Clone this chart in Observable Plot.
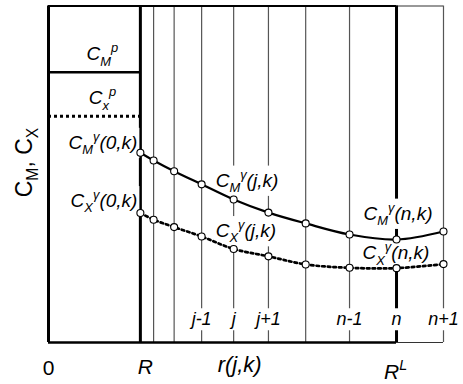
<!DOCTYPE html>
<html>
<head>
<meta charset="utf-8">
<script src="https://cdn.jsdelivr.net/npm/d3@7"></script>
<script src="https://cdn.jsdelivr.net/npm/@observablehq/plot@0.6"></script>
<style>
  html, body { margin: 0; padding: 0; background: #fff; }
</style>
</head>
<body>
<div id="chart"></div>
<script>
// Radial grid nodes r(j,k): node 0 sits on the particle surface R, node n on the layer edge R^L
const nodeR = [2.64, 3.02, 3.61, 4.40, 5.32, 6.32, 7.39, 8.65, 10.0, 11.35];
const nodeLabels = ["", "", "", "j-1", "j", "j+1", "", "n-1", "n", "n+1"];
const R = nodeR[0];
const RL = nodeR[8];

// Concentration profiles at the grid nodes
const cM = [0.564, 0.541, 0.509, 0.470, 0.425, 0.386, 0.354, 0.321, 0.306, 0.330];
const cX = [0.385, 0.365, 0.343, 0.315, 0.278, 0.256, 0.232, 0.222, 0.221, 0.233];

// Concentrations inside the particle
const cMp = 0.803;
const cXp = 0.672;

// Text labels ( _x = subscript, ^x = superscript )
const yLabel = "C_M, C_X";
const xAxisLabels = ["0", "R", "r(j,k)", "R^L"];
const labelMp = "C_M^p";
const labelXp = "C_x^p";
const labelM = ["C_M^γ(0,k)", "C_M^γ(j,k)", "C_M^γ(n,k)"];
const labelX = ["C_X^γ(0,k)", "C_X^γ(j,k)", "C_X^γ(n,k)"];

const nodes = nodeR.map((r, i) => ({r, m: cM[i], x: cX[i], label: nodeLabels[i]}));
const thinNodes = nodeR.filter((r, i) => i !== 0 && i !== 8);
const rMax = d3.max(nodeR);

const curveLabel = (i, text, y, opts) =>
  Plot.text([nodes[i]], {x: "r", y, text: () => text, fontSize: 19, fontStyle: "italic",
    ariaDescription: "boxed", ...opts});

const chart = Plot.plot({
  width: 463,
  height: 384,
  marginLeft: 48,
  marginRight: 20,
  marginTop: 5.5,
  marginBottom: 42,
  x: {domain: [0, rMax], axis: null},
  y: {domain: [0, 1], axis: null},
  style: {fontFamily: "'Liberation Sans', Arial, sans-serif", background: "white", color: "black"},
  marks: [
    // interior grid lines and right edge of the extended layer
    Plot.ruleX(thinNodes, {y1: 0, y2: 1, stroke: "#555", strokeWidth: 1.2}),
    Plot.ruleY([0, 1], {x1: RL, x2: rMax, stroke: "#333", strokeWidth: 1.2}),
    // main box
    Plot.ruleY([0], {x1: 0, x2: RL, strokeWidth: 2.6}),
    Plot.ruleY([1], {x1: 0, x2: RL, strokeWidth: 2.2}),
    Plot.ruleX([0], {y1: 0, y2: 1, strokeWidth: 3}),
    // particle surface and layer boundary
    Plot.ruleX([R, RL], {y1: 0, y2: 1, strokeWidth: 3}),
    // concentrations inside the particle
    Plot.ruleY([cMp], {x1: 0, x2: R, strokeWidth: 2.6}),
    Plot.ruleY([cXp], {x1: 0, x2: R, strokeWidth: 3, strokeDasharray: "3,3"}),
    Plot.text([labelMp], {x: R / 2, y: cMp, text: d => d, fontSize: 19, fontStyle: "italic", dx: 8, dy: -18}),
    Plot.text([labelXp], {x: R / 2, y: cXp, text: d => d, fontSize: 19, fontStyle: "italic", dx: 8, dy: -18}),
    // node labels above the bottom edge
    Plot.text(nodes.filter(d => d.label), {x: "r", y: 0, text: "label", fontSize: 18, fontStyle: "italic",
      dy: -23, ariaDescription: "boxed"}),
    // curve labels
    curveLabel(0, labelM[0], "m", {textAnchor: "end", dx: -3, dy: -10}),
    curveLabel(0, labelX[0], "x", {textAnchor: "end", dx: -3, dy: -12}),
    curveLabel(4, labelM[1], "m", {textAnchor: "start", dx: -18, dy: -19}),
    curveLabel(4, labelX[1], "x", {textAnchor: "start", dx: -18, dy: -18}),
    curveLabel(8, labelM[2], "m", {textAnchor: "start", dx: -33, dy: -26}),
    curveLabel(8, labelX[2], "x", {textAnchor: "start", dx: -34, dy: -15}),
    // profiles
    Plot.line(nodes, {x: "r", y: "m", curve: "catmull-rom", strokeWidth: 2.2}),
    Plot.line(nodes, {x: "r", y: "x", curve: "catmull-rom", strokeWidth: 2.7, strokeDasharray: "2.6,3"}),
    Plot.dot(nodes, {x: "r", y: "m", r: 3.5, fill: "white", stroke: "black", strokeWidth: 1.1}),
    Plot.dot(nodes, {x: "r", y: "x", r: 3.5, fill: "white", stroke: "black", strokeWidth: 1.1}),
    // axis labels
    Plot.text([xAxisLabels[0]], {x: 0, y: 0, text: d => d, fontSize: 21, dy: 25.5}),
    Plot.text([xAxisLabels[1]], {x: R, y: 0, text: d => d, fontSize: 21, fontStyle: "italic", dx: 5, dy: 25}),
    Plot.text([xAxisLabels[2]], {x: nodeR[4], y: 0, text: d => d, fontSize: 22, fontStyle: "italic", dx: 6, dy: 22}),
    Plot.text([xAxisLabels[3]], {x: RL, y: 0, text: d => d, fontSize: 21, fontStyle: "italic", dx: -1, dy: 30}),
    Plot.text([yLabel], {frameAnchor: "left", text: d => d, rotate: -90, fontSize: 23, dx: -24, dy: 23})
  ]
});

document.getElementById("chart").append(chart);

const NS = "http://www.w3.org/2000/svg";

// Turn "_x" / "^x" markers into sub- and superscript tspans
function richText(el) {
  const s = el.textContent;
  if (!/[_^]/.test(s)) return;
  const fs = parseFloat(getComputedStyle(el).fontSize);
  const tokens = s.match(/[_^].|[^_^]+/g);
  let shift = 0;
  el.textContent = "";
  for (const t of tokens) {
    const ts = document.createElementNS(NS, "tspan");
    let target = 0;
    if (t[0] === "_") {
      target = 0.28 * fs;
      ts.setAttribute("font-size", 0.68 * fs);
      ts.textContent = t.slice(1);
    } else if (t[0] === "^") {
      target = -0.42 * fs;
      ts.setAttribute("font-size", 0.68 * fs);
      ts.textContent = t.slice(1);
    } else {
      ts.textContent = t;
    }
    ts.setAttribute("dy", target - shift);
    shift = target;
    el.appendChild(ts);
  }
}

d3.select(chart).selectAll("text").each(function() { richText(this); });

// White backing boxes so the grid lines break around the labels
d3.select(chart).selectAll('g[aria-description="boxed"] text').each(function() {
  const b = this.getBBox();
  const rect = document.createElementNS(NS, "rect");
  rect.setAttribute("x", b.x - 2);
  rect.setAttribute("y", b.y - 1);
  rect.setAttribute("width", b.width + 4);
  rect.setAttribute("height", b.height + 2);
  rect.setAttribute("fill", "white");
  rect.setAttribute("stroke", "none");
  const tr = this.getAttribute("transform");
  if (tr) rect.setAttribute("transform", tr);
  this.parentNode.insertBefore(rect, this);
});
</script>
</body>
</html>
